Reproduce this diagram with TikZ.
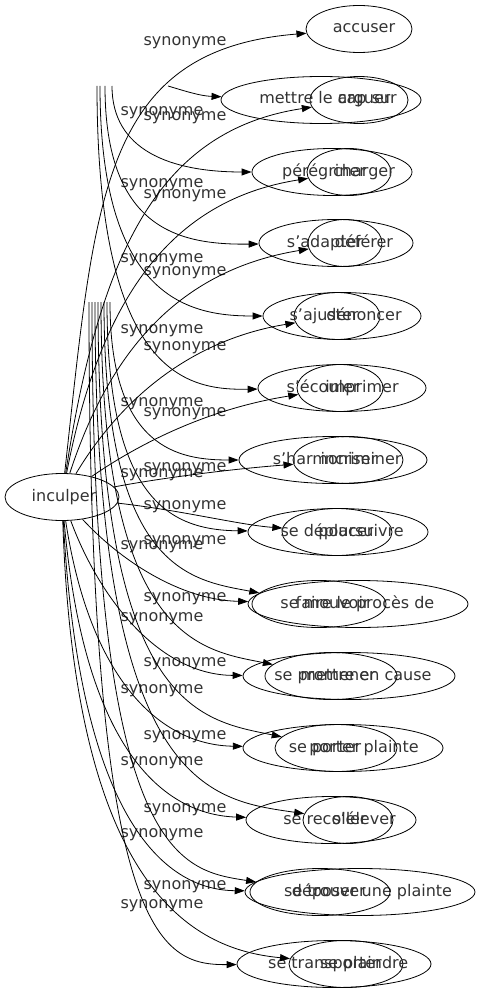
\documentclass[tikz,border=0pt]{standalone}
\usepackage{fontspec}
\setmainfont{DejaVu Sans}
\usetikzlibrary{arrows.meta,shapes.geometric}
\begin{document}
\begin{tikzpicture}[x=1pt,y=-1pt,
  syn/.style={draw,ellipse,inner sep=0pt,minimum height=47pt,line width=0.8pt},
  rel/.style={-{Triangle[length=10pt,width=7pt]},line width=0.8pt},
  lbl/.style={font=\fontsize{16}{19}\selectfont,inner sep=0pt,text=black!80,
    text height=11.5pt,text depth=3.5pt},
  every label/.style={lbl}]
\useasboundingbox (0,0) rectangle (481,995);
% source
\node[syn,minimum width=114pt,label={[xshift=2pt]center:inculper}] (inculper) at (62,497) {};
% first set of words
\node[syn,minimum width=106pt,label={[xshift=5pt]center:accuser}] (accuser) at (359,29) {};
\node[syn,minimum width=98pt,label={[xshift=5pt]center:arguer}] (arguer) at (359,100) {};
\node[syn,minimum width=84pt,label={[xshift=15pt]center:charger}] (charger) at (349,172) {};
\node[syn,minimum width=74pt,label={[xshift=19pt]center:déférer}] (deferer) at (345,243) {};
\node[syn,minimum width=86pt,label={[xshift=27pt]center:dénoncer}] (denoncer) at (337,316) {};
\node[syn,minimum width=86pt,label={[xshift=22pt]center:imprimer}] (imprimer) at (340,388) {};
\node[syn,minimum width=110pt,label={[xshift=13pt]center:incriminer}] (incriminer) at (348,460) {};
\node[syn,minimum width=110pt,label={[xshift=24pt]center:poursuivre}] (poursuivre) at (337,532) {};
\node[syn,minimum width=220pt,label={[xshift=7pt]center:faire le procès de}] (faireproces) at (358,604) {};
\node[syn,minimum width=212pt,label={[xshift=17pt]center:mettre en cause}] (mettrecause) at (349,676) {};
\node[syn,minimum width=200pt,label={[xshift=21pt]center:porter plainte}] (porterplainte) at (343,748) {};
\node[syn,minimum width=170pt,label={[xshift=33pt]center:s'élever}] (selever) at (331,820) {};
\node[syn,minimum width=230pt,label={[xshift=12pt]center:déposer une plainte}] (deposer) at (360,892) {};
\node[syn,minimum width=114pt,label={[xshift=18pt]center:se plaindre}] (seplaindre) at (346,964) {};
% second set of words
\node[syn,minimum width=200pt,label={[xshift=7pt]center:mettre le cap sur}] (mettrecap) at (321,100) {};
\node[syn,minimum width=160pt,label={[xshift=-8pt]center:pérégriner}] (peregriner) at (332,172) {};
\node[syn,minimum width=154pt,label={[xshift=-11pt]center:s'adapter}] (sadapter) at (336,243) {};
\node[syn,minimum width=158pt,label={[xshift=-18pt]center:s'ajuster}] (sajuster) at (342,316) {};
\node[syn,minimum width=168pt,label={[xshift=-19pt]center:s'écouler}] (secouler) at (342,388) {};
\node[syn,minimum width=188pt,label={[xshift=-8pt]center:s'harmoniser}] (sharmoniser) at (333,460) {};
\node[syn,minimum width=180pt,label={[xshift=-11pt]center:se déplacer}] (sedeplacer) at (338,532) {};
\node[syn,minimum width=134pt,label={[xshift=6pt]center:se mouvoir}] (semouvoir) at (319,604) {};
\node[syn,minimum width=132pt,label={[xshift=-6pt]center:se promener}] (sepromener) at (331,676) {};
\node[syn,minimum width=122pt,label={[xshift=-11pt]center:se porter}] (seporter) at (336,748) {};
\node[syn,minimum width=90pt,label={[xshift=-23pt]center:se recoller}] (serecoller) at (348,820) {};
\node[syn,minimum width=140pt,label={[xshift=5pt]center:se trouver}] (setrouver) at (320,892) {};
\node[syn,minimum width=194pt,label={[xshift=-9pt]center:se transporter}] (setransporter) at (334,964) {};
% edge labels
\foreach \y [count=\i] in {112,184,258,329,402,473,545,617,689,761,833,904}
  \node[lbl] (la\i) at (162,\y) {synonyme};
\foreach \y [count=\i] in {42,117,195,271,346,412,467,505,540,597,662,735,808,885}
  \node[lbl] (lb\i) at (185,\y) {synonyme};
% loose ends of the second fan
\coordinate (t2) at (168,86);
\coordinate (t3) at (112,86);
\coordinate (t4) at (105,86);
\coordinate (t5) at (100,86);
\coordinate (t6) at (97,86);
\coordinate (t7) at (110,302);
\coordinate (t8) at (107,302);
\coordinate (t9) at (104,302);
\coordinate (t10) at (101,302);
\coordinate (t11) at (98,302);
\coordinate (t12) at (95,302);
\coordinate (t13) at (92,302);
\coordinate (t14) at (89,302);
% edges from inculper
\draw[rel] (inculper) .. controls (95,200) and (100,50) .. (accuser);
\draw[rel] (inculper) .. controls (100,250) and (160,130) .. (arguer);
\draw[rel] (inculper) .. controls (100,300) and (170,200) .. (charger);
\draw[rel] (inculper) .. controls (110,350) and (180,270) .. (deferer);
\draw[rel] (inculper) .. controls (120,400) and (190,340) .. (denoncer);
\draw[rel] (inculper) .. controls (130,450) and (200,410) .. (imprimer);
\draw[rel] (inculper) .. controls (150,480) and (220,470) .. (incriminer);
\draw[rel] (inculper) .. controls (180,510) and (240,525) .. (poursuivre);
\draw[rel] (inculper) .. controls (120,560) and (180,600) .. (faireproces);
\draw[rel] (inculper) .. controls (100,600) and (160,675) .. (mettrecause);
\draw[rel] (inculper) .. controls (90,680) and (160,745) .. (porterplainte);
\draw[rel] (inculper) .. controls (85,760) and (170,815) .. (selever);
\draw[rel] (inculper) .. controls (80,830) and (170,890) .. (deposer);
\draw[rel] (inculper) .. controls (75,900) and (200,950) .. (seplaindre);
% edges of the second fan
\draw[rel] (t2) .. controls (185,91) and (200,96) .. (mettrecap);
\draw[rel] (t3) .. controls (112,150) and (170,172) .. (peregriner);
\draw[rel] (t4) .. controls (105,230) and (180,245) .. (sadapter);
\draw[rel] (t5) .. controls (100,300) and (190,316) .. (sajuster);
\draw[rel] (t6) .. controls (97,380) and (190,390) .. (secouler);
\draw[rel] (t7) .. controls (110,450) and (180,460) .. (sharmoniser);
\draw[rel] (t8) .. controls (107,500) and (170,530) .. (sedeplacer);
\draw[rel] (t9) .. controls (104,570) and (190,580) .. (semouvoir);
\draw[rel] (t10) .. controls (101,640) and (200,650) .. (sepromener);
\draw[rel] (t11) .. controls (98,710) and (200,720) .. (seporter);
\draw[rel] (t12) .. controls (95,790) and (210,800) .. (serecoller);
\draw[rel] (t13) .. controls (92,860) and (180,870) .. (setrouver);
\draw[rel] (t14) .. controls (89,940) and (160,965) .. (setransporter);
\end{tikzpicture}
\end{document}
